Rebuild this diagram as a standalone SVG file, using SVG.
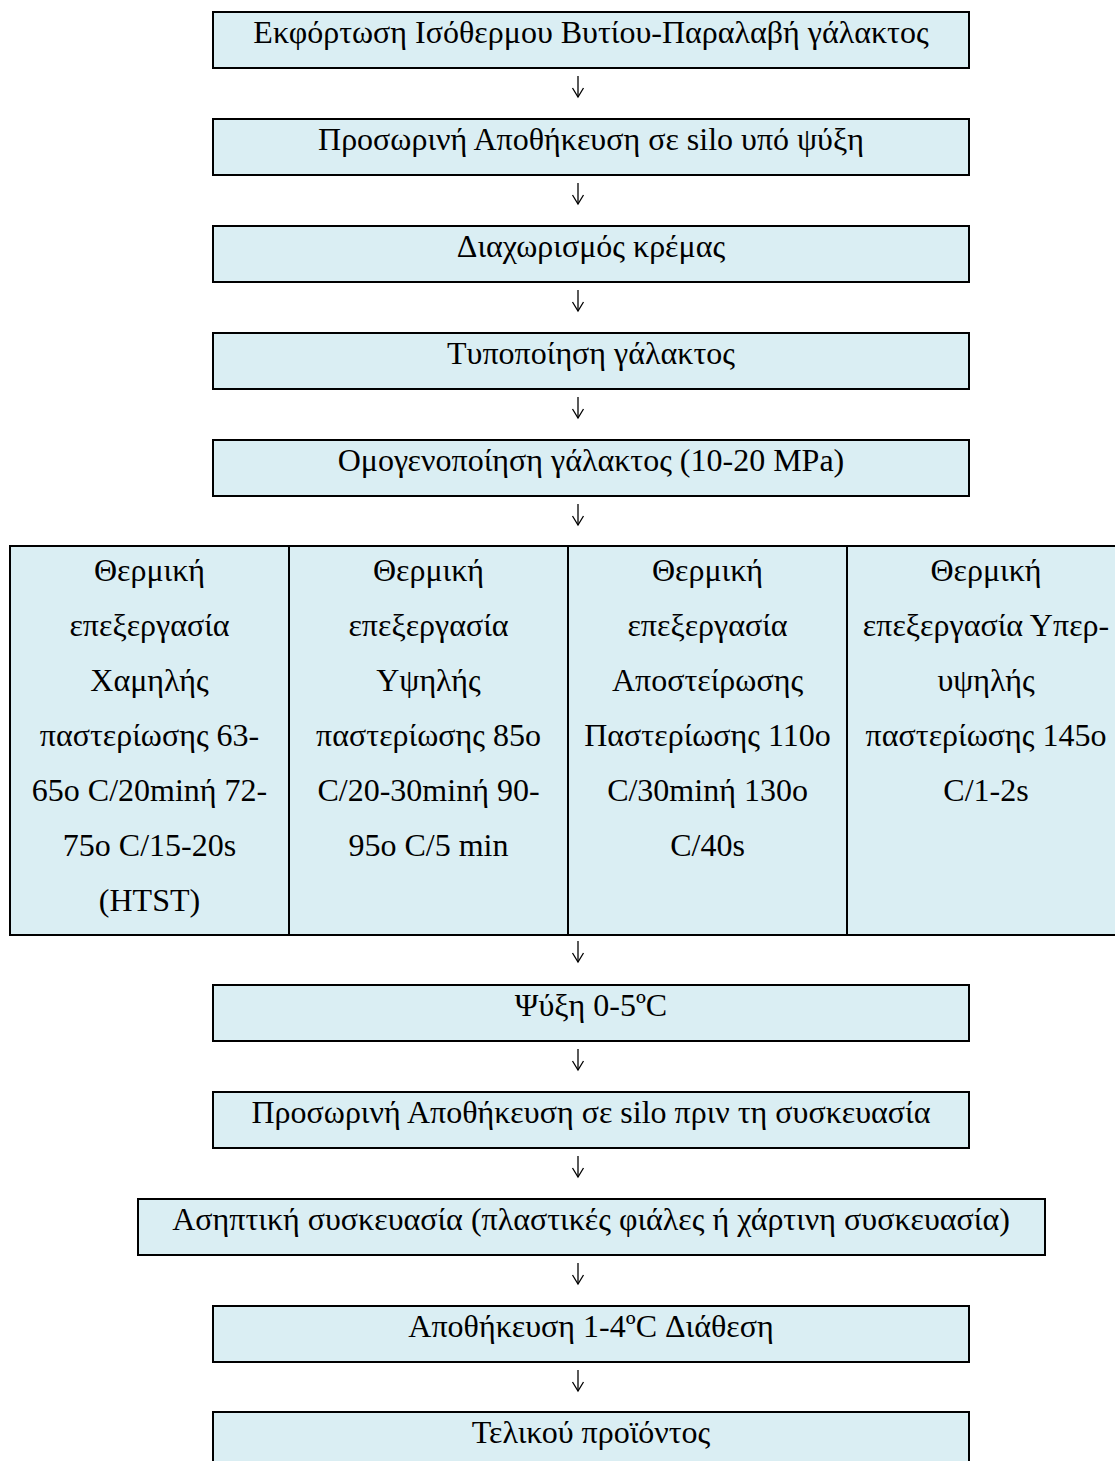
<svg xmlns="http://www.w3.org/2000/svg" width="1115" height="1461" viewBox="0 0 1115 1461">
<defs>
<style>
.box{fill:#DAEEF3;stroke:#000;stroke-width:2}
.t{font-family:"Liberation Serif","Times New Roman",serif;font-size:32px;fill:#000;text-anchor:middle}
.c{stroke:#000;stroke-width:1.3;fill:none}
</style>
<marker id="ah" markerWidth="12" markerHeight="14" refX="10" refY="6" orient="auto" markerUnits="userSpaceOnUse" viewBox="0 0 12 12">
<path d="M1,0.5 L10,6 L1,11.5" fill="none" stroke="#000" stroke-width="1.3"/>
</marker>
</defs>
<rect width="1115" height="1461" fill="#fff"/>
<g id="n1"><rect class="box" x="213" y="12" width="756" height="56"/><text class="t" x="591" y="43">Εκφόρτωση Ισόθερμου Βυτίου-Παραλαβή γάλακτος</text></g>
<g id="n2"><rect class="box" x="213" y="119" width="756" height="56"/><text class="t" x="591" y="150">Προσωρινή Αποθήκευση σε silo υπό ψύξη</text></g>
<g id="n3"><rect class="box" x="213" y="226" width="756" height="56"/><text class="t" x="591" y="257">Διαχωρισμός κρέμας</text></g>
<g id="n4"><rect class="box" x="213" y="333" width="756" height="56"/><text class="t" x="591" y="364">Τυποποίηση γάλακτος</text></g>
<g id="n5"><rect class="box" x="213" y="440" width="756" height="56"/><text class="t" x="591" y="471">Ομογενοποίηση γάλακτος (10-20 MPa)</text></g>
<g id="n6a"><rect class="box" x="10" y="546" width="279" height="389"/>
<text class="t" x="149.5" y="581">Θερμική</text><text class="t" x="149.5" y="636">επεξεργασία</text><text class="t" x="149.5" y="691">Χαμηλής</text><text class="t" x="149.5" y="746">παστερίωσης 63-</text><text class="t" x="149.5" y="801">65o C/20minή 72-</text><text class="t" x="149.5" y="856">75o C/15-20s</text><text class="t" x="149.5" y="911">(HTST)</text></g>
<g id="n6b"><rect class="box" x="289" y="546" width="279" height="389"/>
<text class="t" x="428.5" y="581">Θερμική</text><text class="t" x="428.5" y="636">επεξεργασία</text><text class="t" x="428.5" y="691">Υψηλής</text><text class="t" x="428.5" y="746">παστερίωσης 85o</text><text class="t" x="428.5" y="801">C/20-30minή 90-</text><text class="t" x="428.5" y="856">95o C/5 min</text></g>
<g id="n6c"><rect class="box" x="568" y="546" width="279" height="389"/>
<text class="t" x="707.5" y="581">Θερμική</text><text class="t" x="707.5" y="636">επεξεργασία</text><text class="t" x="707.5" y="691">Αποστείρωσης</text><text class="t" x="707.5" y="746">Παστερίωσης 110o</text><text class="t" x="707.5" y="801">C/30minή 130o</text><text class="t" x="707.5" y="856">C/40s</text></g>
<g id="n6d"><rect class="box" x="847" y="546" width="279" height="389"/>
<text class="t" x="986" y="581">Θερμική</text><text class="t" x="986" y="636">επεξεργασία Υπερ-</text><text class="t" x="986" y="691">υψηλής</text><text class="t" x="986" y="746">παστερίωσης 145o</text><text class="t" x="986" y="801">C/1-2s</text></g>
<g id="n7"><rect class="box" x="213" y="985" width="756" height="56"/><text class="t" x="591" y="1016">Ψύξη 0-5ºC</text></g>
<g id="n8"><rect class="box" x="213" y="1092" width="756" height="56"/><text class="t" x="591" y="1123">Προσωρινή Αποθήκευση σε silo πριν τη συσκευασία</text></g>
<g id="n9"><rect class="box" x="138" y="1199" width="907" height="56"/><text class="t" x="591" y="1230">Ασηπτική συσκευασία (πλαστικές φιάλες ή χάρτινη συσκευασία)</text></g>
<g id="n10"><rect class="box" x="213" y="1306" width="756" height="56"/><text class="t" x="591" y="1337">Αποθήκευση 1-4ºC Διάθεση</text></g>
<g id="n11"><rect class="box" x="213" y="1412" width="756" height="60"/><text class="t" x="591" y="1443">Τελικού προϊόντος</text></g>
<g id="connectors">
<path class="c" marker-end="url(#ah)" d="M578,76 V97"/>
<path class="c" marker-end="url(#ah)" d="M578,183 V204"/>
<path class="c" marker-end="url(#ah)" d="M578,290 V311"/>
<path class="c" marker-end="url(#ah)" d="M578,397 V418"/>
<path class="c" marker-end="url(#ah)" d="M578,504 V525"/>
<path class="c" marker-end="url(#ah)" d="M578,941 V962"/>
<path class="c" marker-end="url(#ah)" d="M578,1049 V1070"/>
<path class="c" marker-end="url(#ah)" d="M578,1156 V1177"/>
<path class="c" marker-end="url(#ah)" d="M578,1263 V1284"/>
<path class="c" marker-end="url(#ah)" d="M578,1370 V1391"/>
</g>
</svg>
